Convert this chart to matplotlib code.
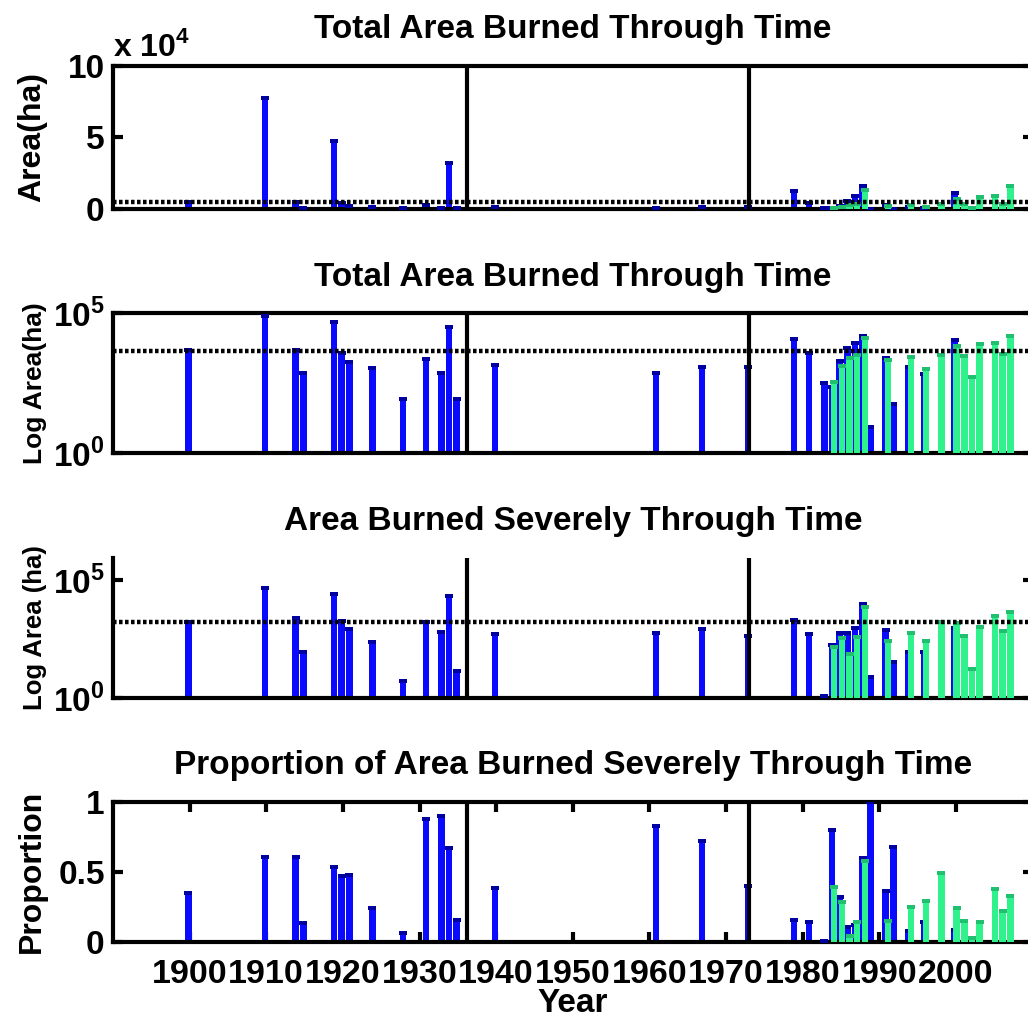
import matplotlib
matplotlib.use('Agg')
import matplotlib.pyplot as plt
import numpy as np

plt.rcParams['font.family'] = 'Liberation Sans'
plt.rcParams['font.weight'] = 'bold'
plt.rcParams['mathtext.fontset'] = 'custom'
plt.rcParams['mathtext.rm'] = 'Liberation Sans:bold'
plt.rcParams['mathtext.bf'] = 'Liberation Sans:bold'

BLUE = '#0a0aff'
BLUE_CAP = '#0000a0'
GREEN = '#30f28c'
GREEN_CAP = '#20c070'

# fires from the older record (blue)
blue_years = [1900, 1910, 1914, 1915, 1919, 1920, 1921, 1924, 1928, 1931, 1933, 1934, 1935, 1940,
              1961, 1967, 1973, 1979, 1981, 1983, 1984, 1985, 1986, 1987, 1988, 1989, 1991, 1992,
              1994, 1996, 2000]
blue_total = [4800, 77500, 4900, 720, 47500, 3900, 1870, 1080, 85, 2300, 760, 32000, 85, 1420,
              720, 1240, 1240, 12000, 3900, 330, 230, 2000, 5600, 8500, 15500, 9, 2600, 58,
              1240, 680, 11000]
blue_severe = [1600, 47000, 2500, 90, 25500, 1870, 800, 240, 5, 1700, 640, 21000, 13, 490,
               550, 800, 430, 2000, 510, 1.2, 174, 575, 550, 890, 9300, 7.8, 755, 34,
               90, 90, 890]
blue_prop = [0.347, 0.608, 0.608, 0.138, 0.532, 0.47, 0.477, 0.24, 0.062, 0.88, 0.90, 0.668, 0.157, 0.383,
             0.829, 0.722, 0.40, 0.157, 0.14, 0.005, 0.80, 0.32, 0.11, 0.12, 0.60, 1.0, 0.36, 0.68,
             0.08, 0.145, 0.085]

# fires from the satellite record (green)
green_years = [1984, 1985, 1986, 1987, 1988, 1991, 1994, 1996, 1998, 2000, 2001, 2002, 2003, 2005, 2006, 2007]
green_total = [360, 1340, 2460, 3240, 13000, 2150, 2700, 1000, 3240, 7000, 3000, 540, 8000, 9000, 3450, 15500]
green_severe = [138, 355, 72, 370, 7400, 257, 575, 257, 1700, 1450, 420, 16, 1040, 3030, 700, 4500]
green_prop = [0.39, 0.287, 0.04, 0.14, 0.577, 0.15, 0.247, 0.294, 0.49, 0.24, 0.15, 0.03, 0.14, 0.378, 0.223, 0.328]

period_breaks = [1936.2, 1973.0]
total_threshold = 4500
severe_threshold = 1600
decade_ticks = list(range(1900, 2001, 10))

W, H = 1028, 1021
LEFT, RIGHT = 113, 1032.5
# (top, bottom) of each panel in pixels
panel_rows = [(66, 208.6), (313.3, 453.3), (557.7, 697.7), (801.7, 942)]
DOTTED = (0, (0.8, 0.55))


def make_axes(fig, top, bottom):
    return fig.add_axes([LEFT / W, 1 - bottom / H, (RIGHT - LEFT) / W, (bottom - top) / H])


def draw_bars(ax, blue_vals, green_vals):
    xb = np.array(blue_years) - 0.15
    xg = np.array(green_years) + 0.12
    ax.bar(xb, blue_vals, width=0.86, color=BLUE, zorder=2)
    ax.errorbar(xb, blue_vals, yerr=0, fmt='none', ecolor=BLUE_CAP, capsize=2.8,
                capthick=2.8, elinewidth=0, zorder=3)
    ax.bar(xg, green_vals, width=0.86, color=GREEN, zorder=3)
    ax.errorbar(xg, green_vals, yerr=0, fmt='none', ecolor=GREEN_CAP, capsize=2.8,
                capthick=2.8, elinewidth=0, zorder=3)
    for x in period_breaks:
        ax.axvline(x, color='k', lw=3, zorder=5)


def style_axes(ax, bottom_labels=False):
    for s in ax.spines.values():
        s.set_linewidth(3)
    ax.set_xlim(1890, 2010)
    ax.minorticks_off()
    ax.tick_params(axis='y', direction='in', length=7, width=3, labelsize=24,
                   left=True, right=True, pad=6)
    if bottom_labels:
        ax.set_xticks(decade_ticks)
        ax.set_xticklabels([str(y) for y in decade_ticks])
        ax.tick_params(axis='x', direction='in', length=7, width=3, labelsize=24.5,
                       top=True, bottom=True, pad=12)
    else:
        ax.set_xticks([])


def main():
    fig = plt.figure(figsize=(W / 100, H / 100), dpi=100)
    ax1, ax2, ax3, ax4 = [make_axes(fig, t, b) for t, b in panel_rows]

    # total area, linear
    draw_bars(ax1, blue_total, green_total)
    ax1.axhline(total_threshold, color='k', lw=3.2, ls=DOTTED, zorder=4)
    ax1.set_ylim(0, 1e5)
    style_axes(ax1)
    ax1.set_yticks([0, 5e4, 1e5])
    ax1.set_yticklabels(['0', '5', '10'])
    ax1.text(0.0, 1.02, r'x 10$^{4}$', transform=ax1.transAxes, fontsize=23,
             ha='left', va='bottom')
    ax1.set_title('Total Area Burned Through Time', fontsize=24, fontweight='bold', pad=20)
    ax1.set_ylabel('Area(ha)', fontsize=23, fontweight='bold')

    # total area, log
    ax2.set_yscale('log')
    draw_bars(ax2, blue_total, green_total)
    ax2.axhline(total_threshold, color='k', lw=3.2, ls=DOTTED, zorder=4)
    ax2.set_ylim(1, 1e5)
    style_axes(ax2)
    ax2.set_yticks([1, 1e5])
    ax2.set_yticklabels([r'10$^{0}$', r'10$^{5}$'])
    ax2.set_title('Total Area Burned Through Time', fontsize=24, fontweight='bold', pad=20)
    ax2.set_ylabel('Log Area(ha)', fontsize=19, fontweight='bold')

    # severe area, log
    ax3.set_yscale('log')
    draw_bars(ax3, blue_severe, green_severe)
    ax3.axhline(severe_threshold, color='k', lw=3.2, ls=DOTTED, zorder=4)
    ax3.set_ylim(1, 10 ** 5.95)
    style_axes(ax3)
    ax3.spines['top'].set_visible(False)
    ax3.set_yticks([1, 1e5])
    ax3.set_yticklabels([r'10$^{0}$', r'10$^{5}$'])
    ax3.set_title('Area Burned Severely Through Time', fontsize=24, fontweight='bold', pad=20)
    ax3.set_ylabel('Log Area (ha)', fontsize=18.5, fontweight='bold')

    # proportion burned severely
    draw_bars(ax4, blue_prop, green_prop)
    ax4.set_ylim(0, 1)
    style_axes(ax4, bottom_labels=True)
    ax4.set_yticks([0, 0.5, 1])
    ax4.set_yticklabels(['0', '0.5', '1'])
    ax4.set_title('Proportion of Area Burned Severely Through Time', fontsize=24,
                  fontweight='bold', pad=20)
    ax4.set_ylabel('Proportion', fontsize=23, fontweight='bold')
    ax4.set_xlabel('Year', fontsize=24, fontweight='bold', labelpad=-1)

    for ax in (ax1, ax2, ax3, ax4):
        ax.yaxis.set_label_coords(-0.072, 0.5)

    fig.savefig('out.png', dpi=100)
    plt.close(fig)


if __name__ == '__main__':
    main()
